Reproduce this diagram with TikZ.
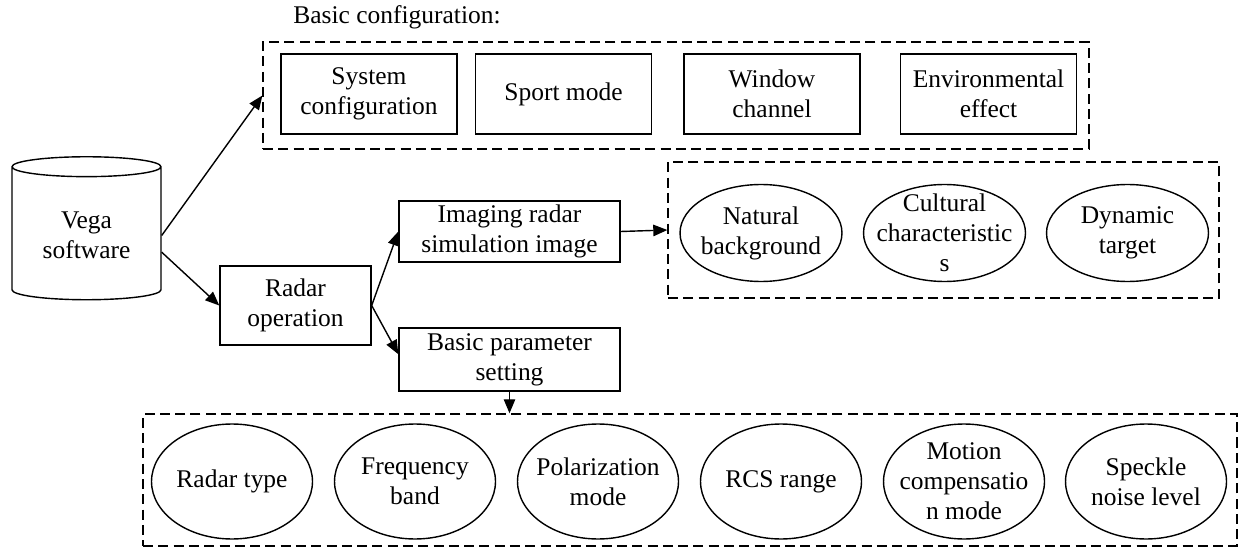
\documentclass[tikz,border=0pt]{standalone}
\usepackage{fontspec}
\setmainfont{Liberation Serif}
\usetikzlibrary{shapes.geometric,arrows.meta}

\begin{document}
\begin{tikzpicture}[x=0.02cm, y=-0.02cm,
		every node/.style={font=\fontsize{14.5}{17}\selectfont, align=center},
		box/.style={draw, line width=0.8pt, inner sep=1pt},
		oval/.style={draw, ellipse, line width=0.8pt},
		group/.style={draw, line width=0.8pt, dash pattern=on 5.7pt off 3pt},
		arr/.style={line width=0.8pt, -{Triangle[length=8pt, width=6.5pt]}}]
		\useasboundingbox (0,0) rectangle (1240,547);
		% dashed groups
		\node[group, minimum width=16.52cm, minimum height=2.14cm] (config) at (676,95.5) {};
		\node[group, minimum width=11.02cm, minimum height=2.72cm] (scene) at (943.5,230) {};
		\node[group, minimum width=21.88cm, minimum height=2.64cm] (setting) at (690,480) {};
		\node[anchor=base west, inner sep=0pt] (cfgtitle) at (293,24) {Basic configuration:};
		% source and main steps
		\node[draw, cylinder, shape border rotate=90, aspect=0.2, minimum width=2.98cm, minimum height=2.86cm, line width=0.8pt] (vega) at (86.5,235.5) {Vega\\software};
		\node[box, minimum width=3.02cm, minimum height=1.58cm] (radar) at (295.5,305.5) {Radar\\operation};
		\node[box, minimum width=4.42cm, minimum height=1.22cm] (imaging) at (509.5,231.5) {Imaging radar\\simulation image};
		\node[box, minimum width=4.42cm, minimum height=1.26cm] (param) at (509.5,359.5) {Basic parameter\\setting};
		% basic configuration items
		\node[box, minimum width=3.52cm, minimum height=1.6cm] (sys) at (369,94) {System\\configuration};
		\node[box, minimum width=3.52cm, minimum height=1.6cm] (sport) at (563.5,94) {Sport mode};
		\node[box, minimum width=3.52cm, minimum height=1.6cm] (window) at (772,94) {Window\\channel};
		\node[box, minimum width=3.52cm, minimum height=1.6cm] (env) at (988.5,94) {Environmental\\effect};
		% scene contents
		\node[oval, minimum width=3.24cm, minimum height=1.94cm, label=center:{Natural\\background}] (nat) at (761,233) {};
		\node[oval, minimum width=3.24cm, minimum height=1.94cm, label=center:{Cultural\\characteristic\\s}] (cult) at (944.5,233) {};
		\node[oval, minimum width=3.24cm, minimum height=1.94cm, label=center:{Dynamic\\target}] (dyn) at (1127.5,233) {};
		% radar parameters
		\node[oval, minimum width=3.22cm, minimum height=2.3cm, label=center:{Radar type}] (rtype) at (232,481.5) {};
		\node[oval, minimum width=3.22cm, minimum height=2.3cm, label=center:{Frequency\\band}] (band) at (415,481.5) {};
		\node[oval, minimum width=3.22cm, minimum height=2.3cm, label=center:{Polarization\\mode}] (polar) at (598,481.5) {};
		\node[oval, minimum width=3.22cm, minimum height=2.3cm, label=center:{RCS range}] (rcs) at (781,481.5) {};
		\node[oval, minimum width=3.22cm, minimum height=2.3cm, label=center:{Motion\\compensatio\\n mode}] (motion) at (964,481.5) {};
		\node[oval, minimum width=3.22cm, minimum height=2.3cm, label=center:{Speckle\\noise level}] (speckle) at (1146,481.5) {};
		% connections
		\draw[arr] (vega.east) -- (config.west);
		\draw[arr] ([yshift=-9.5pt]vega.east) -- (radar.west);
		\draw[arr] (radar.east) -- (imaging.west);
		\draw[arr] (radar.east) -- ([yshift=3pt]param.west);
		\draw[arr] (imaging.east) -- (scene.west);
		\draw[arr] (param.south) -- (param.south |- setting.north);
\end{tikzpicture}
\end{document}
